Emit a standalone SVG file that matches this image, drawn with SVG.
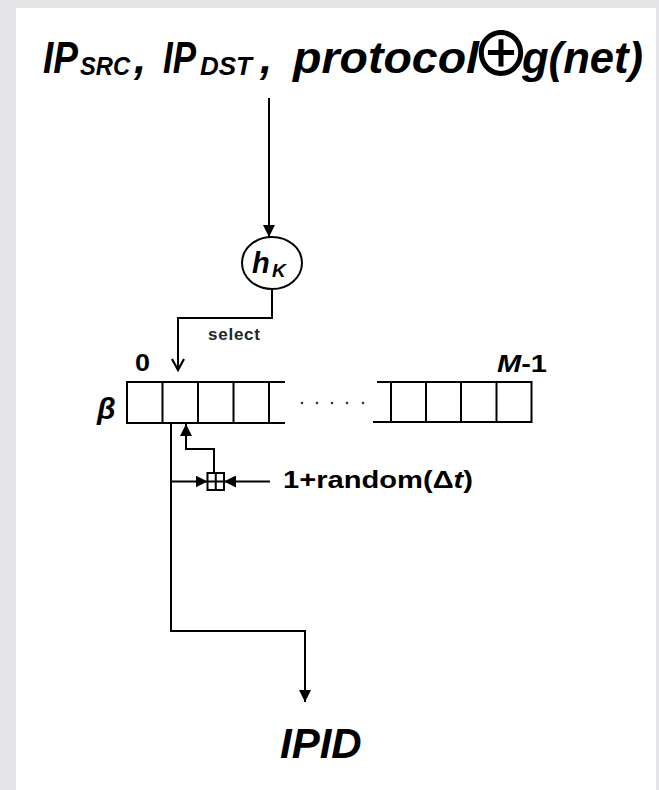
<svg xmlns="http://www.w3.org/2000/svg" width="659" height="790" viewBox="0 0 659 790">
<defs>
<style>
.ln{fill:none;stroke:#000;stroke-width:2}
.bi{font-family:"Liberation Sans",Arial,sans-serif;font-weight:bold;font-style:italic;fill:#000}
.b{font-family:"Liberation Sans",Arial,sans-serif;font-weight:bold;fill:#000}
</style>
<marker id="tri" markerUnits="userSpaceOnUse" markerWidth="12" markerHeight="12" refX="10" refY="5" orient="auto" viewBox="0 0 10 10">
<path d="M0,0 L10,5 L0,10 z" fill="#000"/>
</marker>
<marker id="vee" markerUnits="userSpaceOnUse" markerWidth="14" markerHeight="14" refX="12" refY="7" orient="auto" viewBox="0 0 14 14">
<path d="M1,1 L12,7 L1,13" fill="none" stroke="#000" stroke-width="2.2"/>
</marker>
</defs>
<rect x="0" y="0" width="659" height="790" fill="#e4e4e6"/>
<rect x="16" y="8" width="640" height="782" fill="#fff"/>

<g id="title">
<text class="bi" x="43" y="73" font-size="44" textLength="35" lengthAdjust="spacingAndGlyphs">IP</text>
<text class="bi" x="80" y="75" font-size="25" textLength="50" lengthAdjust="spacingAndGlyphs">SRC</text>
<text class="bi" x="134" y="73" font-size="44">,</text>
<text class="bi" x="163" y="73" font-size="44" textLength="33" lengthAdjust="spacingAndGlyphs">IP</text>
<text class="bi" x="200" y="75" font-size="25" textLength="52" lengthAdjust="spacingAndGlyphs">DST</text>
<text class="bi" x="260" y="73" font-size="44">,</text>
<text class="bi" x="293" y="73" font-size="44" textLength="186" lengthAdjust="spacingAndGlyphs">protocol</text>
<text x="501" y="76" font-size="60" font-weight="500" font-family="Noto Sans CJK SC,DejaVu Sans,sans-serif" text-anchor="middle" fill="#000">⊕</text>
<text class="bi" x="522" y="73" font-size="44" textLength="121" lengthAdjust="spacingAndGlyphs">g(net)</text>
</g>

<g id="hash">
<ellipse cx="272" cy="263" rx="30" ry="26" fill="#fff" stroke="#000" stroke-width="2"/>
<text class="bi" x="252" y="273" font-size="29">h</text>
<text class="bi" x="272" y="277" font-size="19">K</text>
</g>

<g id="array">
<line class="ln" x1="127" y1="382" x2="285" y2="382"/>
<line class="ln" x1="127" y1="423" x2="285" y2="423"/>
<line class="ln" x1="127" y1="381" x2="127" y2="424"/>
<line class="ln" x1="162.5" y1="382" x2="162.5" y2="423"/>
<line class="ln" x1="198" y1="382" x2="198" y2="423"/>
<line class="ln" x1="233.5" y1="382" x2="233.5" y2="423"/>
<line class="ln" x1="269" y1="382" x2="269" y2="423"/>
<line class="ln" x1="377" y1="382" x2="532" y2="382"/>
<line class="ln" x1="373" y1="422" x2="532" y2="422"/>
<line class="ln" x1="391" y1="382" x2="391" y2="422"/>
<line class="ln" x1="426" y1="382" x2="426" y2="422"/>
<line class="ln" x1="461" y1="382" x2="461" y2="422"/>
<line class="ln" x1="496.5" y1="382" x2="496.5" y2="422"/>
<line class="ln" x1="531.5" y1="381" x2="531.5" y2="423"/>
<g fill="#333">
<circle cx="302" cy="403" r="1.3"/>
<circle cx="317" cy="403" r="1.3"/>
<circle cx="332" cy="403" r="1.3"/>
<circle cx="347" cy="403" r="1.3"/>
<circle cx="363" cy="403" r="1.3"/>
</g>
<text class="bi" x="97" y="419" font-size="30">β</text>
<text class="b" x="135" y="371" font-size="23" textLength="15" lengthAdjust="spacingAndGlyphs">0</text>
<text class="b" x="497" y="372" font-size="24" textLength="50" lengthAdjust="spacingAndGlyphs"><tspan font-style="italic">M</tspan>-1</text>
</g>

<g id="adder">
<rect x="207.5" y="473" width="16.5" height="17" fill="#fff" stroke="#000" stroke-width="2"/>
<line class="ln" x1="215.75" y1="473" x2="215.75" y2="490" stroke-width="1.5"/>
<line class="ln" x1="207.5" y1="481.5" x2="224" y2="481.5" stroke-width="1.5"/>
</g>

<g id="random">
<text class="b" x="283" y="488" font-size="24" textLength="190" lengthAdjust="spacingAndGlyphs">1+random(Δ<tspan font-style="italic">t</tspan>)</text>
</g>

<g id="output">
<text class="bi" x="280" y="758" font-size="42">IPID</text>
</g>

<g id="connectors">
<line class="ln" x1="269" y1="98" x2="269" y2="237" marker-end="url(#tri)"/>
<polyline class="ln" points="272,289 272,318 178,318 178,370" marker-end="url(#vee)"/>
<text x="208" y="340" font-size="17" font-family="Liberation Sans,Arial,sans-serif" font-weight="bold" fill="#262626" textLength="52">select</text>
<polyline class="ln" points="214,473 214,449 186,449 186,424" marker-end="url(#tri)"/>
<line class="ln" x1="171" y1="481.5" x2="207.5" y2="481.5" marker-end="url(#tri)"/>
<line class="ln" x1="270" y1="481.5" x2="224" y2="481.5" marker-end="url(#tri)"/>
<polyline class="ln" points="171,423 171,631 305,631 305,702" marker-end="url(#tri)"/>
</g>
</svg>
